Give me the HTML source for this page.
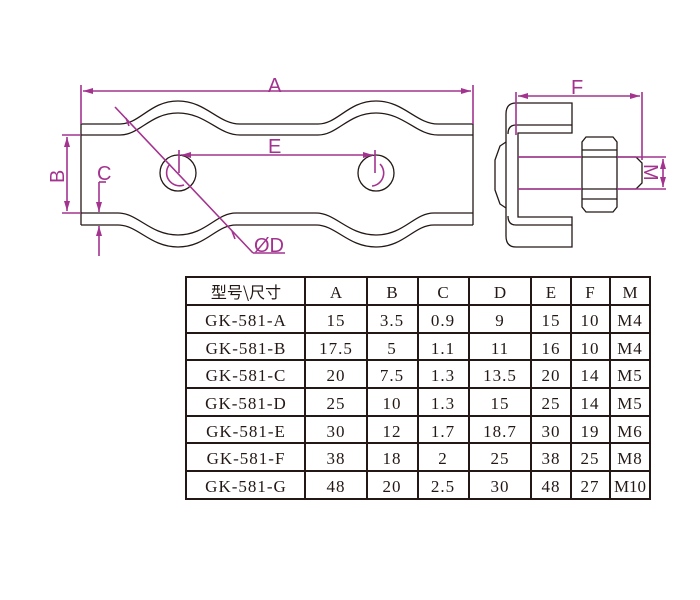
<!DOCTYPE html>
<html><head><meta charset="utf-8"><style>
html,body{margin:0;padding:0;background:#fff;}
svg{display:block}
</style></head><body>
<svg width="700" height="600" viewBox="0 0 700 600" xmlns="http://www.w3.org/2000/svg">
<defs>
<marker id="ar" viewBox="0 0 10 6" refX="10" refY="3" markerWidth="10" markerHeight="6" orient="auto-start-reverse" markerUnits="userSpaceOnUse">
<path d="M0,0 L10,3 L0,6 Z" fill="#a3338f"/>
</marker>
</defs>
<g fill="none" stroke="#231815" stroke-width="1.3">
<path d="M81,124 L120,124 C140,124 150,101 178,101 C206,101 218,124 240,124 L318,124 C338,124 348,101 376,101 C404,101 416,124 438,124 L473,124"/>
<path d="M81,135 L120,135 C140,135 150,113 178,113 C206,113 218,135 240,135 L318,135 C338,135 348,113 376,113 C404,113 416,135 438,135 L473,135"/>
<path d="M81,213 L118,213 C138,213 150,235 178,235 C206,235 216,213 236,213 L316,213 C336,213 348,235 376,235 C404,235 414,213 434,213 L473,213"/>
<path d="M81,225 L118,225 C138,225 150,247 178,247 C206,247 216,225 236,225 L316,225 C336,225 348,247 376,247 C404,247 414,225 434,225 L473,225"/>
<line x1="81" y1="124" x2="81" y2="225"/>
<line x1="473" y1="124" x2="473" y2="225"/>
<circle cx="178" cy="173" r="18"/>
<circle cx="376" cy="173" r="18"/>
<path d="M572,103 L516,103 Q506,103 506,114 L506,236 Q506,247 516,247 L572,247 L572,217 L518,217 L518,133 L572,133 Z"/>
<path d="M572,125 L516,125 Q508,125 508,134"/>
<path d="M572,225 L516,225 Q508,225 508,216"/>
<path d="M506,142 L500,146 L495,160 L495,190 L500,204 L506,208"/>
<line x1="518" y1="157" x2="636" y2="157"/>
<line x1="518" y1="189" x2="636" y2="189"/>
<path d="M636,157 L642,163 L642,183 L636,189"/>
<path d="M586,137 L613,137 L617,142 L617,207 L613,212 L586,212 L582,207 L582,142 Z"/>
<line x1="582" y1="150" x2="617" y2="150"/>
<line x1="582" y1="199" x2="617" y2="199"/>
</g>
<g stroke="#a3338f" stroke-width="1.6" fill="none">
<line x1="81" y1="85" x2="81" y2="124"/>
<line x1="473" y1="85" x2="473" y2="124"/>
<line x1="83" y1="91" x2="471" y2="91" marker-start="url(#ar)" marker-end="url(#ar)"/>
<line x1="179" y1="150" x2="179" y2="173"/>
<line x1="375" y1="150" x2="375" y2="173"/>
<line x1="181" y1="155" x2="373" y2="155" marker-start="url(#ar)" marker-end="url(#ar)"/>
<path d="M170,164 A13,13 0 0 0 184,185"/>
<path d="M380,164 A13,13 0 0 1 372,186"/>
<line x1="62" y1="135" x2="81" y2="135"/>
<line x1="62" y1="213" x2="81" y2="213"/>
<line x1="67" y1="137" x2="67" y2="211" marker-start="url(#ar)" marker-end="url(#ar)"/>
<line x1="99" y1="182" x2="106" y2="182"/>
<line x1="99" y1="182" x2="99" y2="212" marker-end="url(#ar)"/>
<line x1="99" y1="256" x2="99" y2="226" marker-end="url(#ar)"/>
<line x1="115" y1="107" x2="253" y2="253"/>
<line x1="253" y1="253" x2="285" y2="253"/>
<path d="M126,118 l3,8" />
<path d="M232,231 l3,8" />
<line x1="516" y1="92" x2="516" y2="135"/>
<line x1="642" y1="92" x2="642" y2="160"/>
<line x1="518" y1="96" x2="640" y2="96" marker-start="url(#ar)" marker-end="url(#ar)"/>
<line x1="636" y1="157" x2="666" y2="157"/>
<line x1="636" y1="189" x2="666" y2="189"/>
<line x1="663" y1="159" x2="663" y2="187" marker-start="url(#ar)" marker-end="url(#ar)"/>
<line x1="518" y1="157" x2="582" y2="157"/>
<line x1="518" y1="189" x2="582" y2="189"/>
<line x1="617" y1="157" x2="636" y2="157"/>
<line x1="617" y1="189" x2="636" y2="189"/>
</g>
<g fill="#a3338f" font-family="Liberation Sans, sans-serif" font-size="20">
<text x="268" y="92">A</text>
<text x="268" y="153">E</text>
<text x="571" y="94">F</text>
<text x="254" y="252">ØD</text>
<text transform="translate(64,183) rotate(-90)">B</text>
<text x="97" y="180">C</text>
<text transform="translate(644,164) rotate(90)">M</text>
</g>
<g stroke="#231815" stroke-width="2" fill="none">
<rect x="186" y="277" width="464" height="222"/>
<line x1="186" y1="305" x2="650" y2="305"/>
<line x1="186" y1="333" x2="650" y2="333"/>
<line x1="186" y1="360" x2="650" y2="360"/>
<line x1="186" y1="388" x2="650" y2="388"/>
<line x1="186" y1="416" x2="650" y2="416"/>
<line x1="186" y1="443" x2="650" y2="443"/>
<line x1="186" y1="471" x2="650" y2="471"/>
<line x1="305" y1="277" x2="305" y2="499"/>
<line x1="367" y1="277" x2="367" y2="499"/>
<line x1="418" y1="277" x2="418" y2="499"/>
<line x1="469" y1="277" x2="469" y2="499"/>
<line x1="531" y1="277" x2="531" y2="499"/>
<line x1="571" y1="277" x2="571" y2="499"/>
<line x1="610" y1="277" x2="610" y2="499"/>
</g>
<g fill="#231815" font-family="Liberation Serif, 'Noto Serif CJK SC', serif" font-size="17" text-anchor="middle">
<text x="246" y="298" font-family="'Noto Sans CJK SC', sans-serif" font-size="16">型号\尺寸</text>
<text x="336" y="298">A</text><text x="392" y="298">B</text><text x="443" y="298">C</text><text x="500" y="298">D</text><text x="551" y="298">E</text><text x="590" y="298">F</text><text x="630" y="298">M</text>
<g letter-spacing="1">
<text x="246" y="326">GK-581-A</text><text x="336" y="326">15</text><text x="392" y="326">3.5</text><text x="443" y="326">0.9</text><text x="500" y="326">9</text><text x="551" y="326">15</text><text x="590" y="326">10</text><text x="630" y="326">M4</text>
<text x="246" y="354">GK-581-B</text><text x="336" y="354">17.5</text><text x="392" y="354">5</text><text x="443" y="354">1.1</text><text x="500" y="354">11</text><text x="551" y="354">16</text><text x="590" y="354">10</text><text x="630" y="354">M4</text>
<text x="246" y="381">GK-581-C</text><text x="336" y="381">20</text><text x="392" y="381">7.5</text><text x="443" y="381">1.3</text><text x="500" y="381">13.5</text><text x="551" y="381">20</text><text x="590" y="381">14</text><text x="630" y="381">M5</text>
<text x="246" y="409">GK-581-D</text><text x="336" y="409">25</text><text x="392" y="409">10</text><text x="443" y="409">1.3</text><text x="500" y="409">15</text><text x="551" y="409">25</text><text x="590" y="409">14</text><text x="630" y="409">M5</text>
<text x="246" y="437">GK-581-E</text><text x="336" y="437">30</text><text x="392" y="437">12</text><text x="443" y="437">1.7</text><text x="500" y="437">18.7</text><text x="551" y="437">30</text><text x="590" y="437">19</text><text x="630" y="437">M6</text>
<text x="246" y="464">GK-581-F</text><text x="336" y="464">38</text><text x="392" y="464">18</text><text x="443" y="464">2</text><text x="500" y="464">25</text><text x="551" y="464">38</text><text x="590" y="464">25</text><text x="630" y="464">M8</text>
<text x="246" y="492">GK-581-G</text><text x="336" y="492">48</text><text x="392" y="492">20</text><text x="443" y="492">2.5</text><text x="500" y="492">30</text><text x="551" y="492">48</text><text x="590" y="492">27</text><text x="630" y="492" letter-spacing="0">M10</text>
</g>
</g>
</svg>
</body></html>
